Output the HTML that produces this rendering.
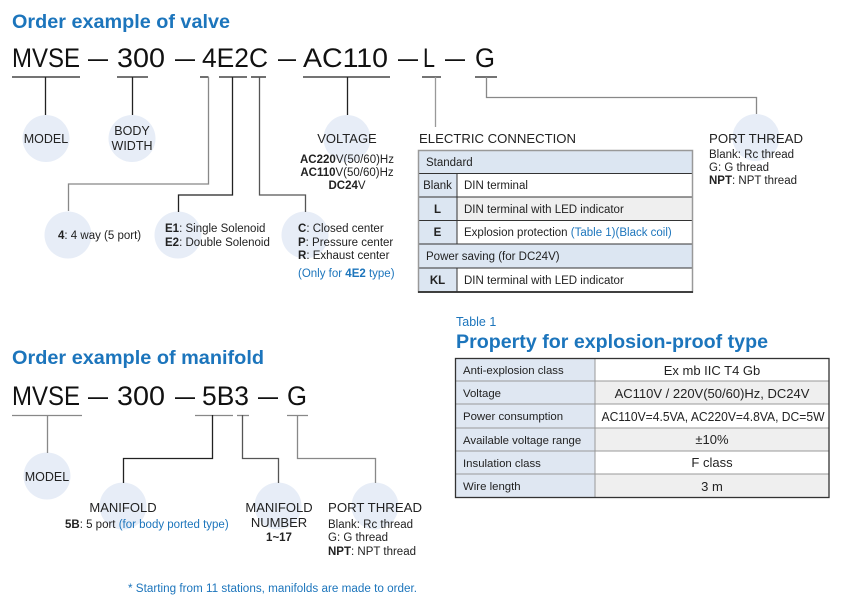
<!DOCTYPE html>
<html><head><meta charset="utf-8"><style>
html,body{margin:0;padding:0;background:#fff;}
svg{display:block;font-family:"Liberation Sans",Arial,sans-serif;}
</style></head><body>
<svg width="845" height="615" viewBox="0 0 845 615" xmlns="http://www.w3.org/2000/svg">
<!-- Titles -->
<text x="12" y="28" font-size="19.5" font-weight="bold" fill="#1c75bc" textLength="218" lengthAdjust="spacingAndGlyphs">Order example of valve</text>
<text x="12" y="364" font-size="19.5" font-weight="bold" fill="#1c75bc" textLength="252" lengthAdjust="spacingAndGlyphs">Order example of manifold</text>
<text x="456" y="326" font-size="12.5" fill="#1c75bc">Table 1</text>
<text x="456" y="348" font-size="19.5" font-weight="bold" fill="#1c75bc" textLength="312" lengthAdjust="spacingAndGlyphs">Property for explosion-proof type</text>

<!-- Valve code -->
<g font-size="27" fill="#111">
<text x="12" y="67" textLength="68" lengthAdjust="spacingAndGlyphs">MVSE</text>
<text x="88" y="67" textLength="20" lengthAdjust="spacingAndGlyphs">—</text>
<text x="117" y="67" textLength="48" lengthAdjust="spacingAndGlyphs">300</text>
<text x="175" y="67" textLength="20" lengthAdjust="spacingAndGlyphs">—</text>
<text x="202" y="67" textLength="66" lengthAdjust="spacingAndGlyphs">4E2C</text>
<text x="278" y="67" textLength="18" lengthAdjust="spacingAndGlyphs">—</text>
<text x="303" y="67" textLength="85" lengthAdjust="spacingAndGlyphs">AC110</text>
<text x="398" y="67" textLength="20" lengthAdjust="spacingAndGlyphs">—</text>
<text x="423" y="67" textLength="12" lengthAdjust="spacingAndGlyphs">L</text>
<text x="445" y="67" textLength="20" lengthAdjust="spacingAndGlyphs">—</text>
<text x="475" y="67" textLength="20" lengthAdjust="spacingAndGlyphs">G</text>
</g>
<!-- Valve underlines -->
<g stroke="#222" stroke-width="1.3">
<line x1="12" y1="77" x2="80" y2="77"/>
<line x1="117" y1="77" x2="148" y2="77"/>
<line x1="200" y1="77" x2="208.5" y2="77"/>
<line x1="219" y1="77" x2="247" y2="77"/>
<line x1="251" y1="77" x2="266" y2="77"/>
<line x1="303" y1="77" x2="390" y2="77"/>
<line x1="422" y1="77" x2="441" y2="77"/>
<line x1="475" y1="77" x2="497" y2="77"/>
</g>
<!-- Circles valve -->
<g fill="#e7edf7">
<circle cx="46" cy="138.5" r="23.5"/>
<circle cx="132" cy="138.5" r="23.5"/>
<circle cx="347" cy="138.5" r="23.5"/>
<circle cx="756" cy="137.5" r="23.5"/>
<circle cx="68" cy="235" r="23.5"/>
<circle cx="178" cy="235" r="23.5"/>
<circle cx="305" cy="235" r="23.5"/>
<!-- manifold -->
<circle cx="47" cy="476" r="23.5"/>
<circle cx="123" cy="506" r="23.5"/>
<circle cx="278" cy="506" r="23.5"/>
<circle cx="375" cy="506" r="23.5"/>
</g>
<!-- Valve connectors -->
<g fill="none" stroke-width="1.3">
<line x1="45.5" y1="77" x2="45.5" y2="115" stroke="#222"/>
<line x1="132.5" y1="77" x2="132.5" y2="115" stroke="#222"/>
<line x1="347.5" y1="77" x2="347.5" y2="115" stroke="#222"/>
<polyline points="208.5,77 208.5,184 68.5,184 68.5,211" stroke="#888"/>
<polyline points="232.5,77 232.5,195 178.5,195 178.5,212" stroke="#222"/>
<polyline points="259.5,77 259.5,195 305.5,195 305.5,212" stroke="#555"/>
<line x1="435.5" y1="77" x2="435.5" y2="127" stroke="#999"/>
<polyline points="486.5,77 486.5,97.5 756.5,97.5 756.5,114" stroke="#888"/>
</g>

<!-- Valve labels -->
<g font-size="12.5" fill="#222">
<text x="46" y="143" text-anchor="middle">MODEL</text>
<text x="132" y="135" text-anchor="middle">BODY</text>
<text x="132" y="150" text-anchor="middle">WIDTH</text>
<text x="347" y="143" text-anchor="middle" font-size="13">VOLTAGE</text>
<text x="419" y="143" font-size="13" textLength="157" lengthAdjust="spacingAndGlyphs">ELECTRIC CONNECTION</text>
<text x="709" y="143" font-size="13" textLength="94" lengthAdjust="spacingAndGlyphs">PORT THREAD</text>
</g>
<g font-size="11.5" fill="#222">
<text x="347" y="163" text-anchor="middle"><tspan font-weight="bold">AC220</tspan>V(50/60)Hz</text>
<text x="347" y="176" text-anchor="middle"><tspan font-weight="bold">AC110</tspan>V(50/60)Hz</text>
<text x="347" y="189" text-anchor="middle"><tspan font-weight="bold">DC24</tspan>V</text>
<text x="709" y="158">Blank: Rc thread</text>
<text x="709" y="171">G: G thread</text>
<text x="709" y="184"><tspan font-weight="bold">NPT</tspan>: NPT thread</text>
<text x="58" y="239"><tspan font-weight="bold">4</tspan>: 4 way (5 port)</text>
<text x="165" y="232"><tspan font-weight="bold">E1</tspan>: Single Solenoid</text>
<text x="165" y="246"><tspan font-weight="bold">E2</tspan>: Double Solenoid</text>
<text x="298" y="232"><tspan font-weight="bold">C</tspan>: Closed center</text>
<text x="298" y="246"><tspan font-weight="bold">P</tspan>: Pressure center</text>
<text x="298" y="259"><tspan font-weight="bold">R</tspan>: Exhaust center</text>
<text x="298" y="277" fill="#1c75bc">(Only for <tspan font-weight="bold">4E2</tspan> type)</text>
</g>

<!-- Electric connection table -->
<g>
<rect x="418" y="150" width="275" height="23.5" fill="#dce6f2"/>
<rect x="418" y="173.5" width="39" height="94.5" fill="#dce6f2"/>
<rect x="457" y="173.5" width="236" height="23.5" fill="#fff"/>
<rect x="457" y="197" width="236" height="23.5" fill="#efefef"/>
<rect x="457" y="220.5" width="236" height="23.5" fill="#fff"/>
<rect x="418" y="244" width="275" height="24" fill="#dce6f2"/>
<rect x="418" y="268" width="39" height="24" fill="#dce6f2"/>
<rect x="457" y="268" width="236" height="24" fill="#fff"/>
<g stroke="#333" stroke-width="1">
<line x1="418" y1="173.5" x2="693" y2="173.5"/>
<line x1="418" y1="197" x2="693" y2="197"/>
<line x1="418" y1="220.5" x2="693" y2="220.5"/>
<line x1="418" y1="244" x2="693" y2="244"/>
<line x1="418" y1="268" x2="693" y2="268"/>
<line x1="418" y1="292" x2="693" y2="292" stroke-width="1.5"/>
<line x1="457" y1="173.5" x2="457" y2="244"/>
<line x1="457" y1="268" x2="457" y2="292"/>
</g>
<rect x="418.5" y="150.5" width="274" height="141.5" fill="none" stroke="#999" stroke-width="1.5"/>
<line x1="418" y1="292" x2="693" y2="292" stroke="#222" stroke-width="1.5"/>
<g font-size="11.5" fill="#222">
<text x="426" y="166">Standard</text>
<text x="437.5" y="189" text-anchor="middle">Blank</text>
<text x="464" y="189">DIN terminal</text>
<text x="437.5" y="213" text-anchor="middle" font-weight="bold">L</text>
<text x="464" y="213">DIN terminal with LED indicator</text>
<text x="437.5" y="236" text-anchor="middle" font-weight="bold">E</text>
<text x="464" y="236">Explosion protection <tspan fill="#1c75bc">(Table 1)(Black coil)</tspan></text>
<text x="426" y="260">Power saving (for DC24V)</text>
<text x="437.5" y="284" text-anchor="middle" font-weight="bold">KL</text>
<text x="464" y="284">DIN terminal with LED indicator</text>
</g>
</g>

<!-- Table 1 -->
<g>
<rect x="455" y="358" width="140" height="140" fill="#dfe7f2"/>
<rect x="595" y="358" width="234" height="23" fill="#fff"/>
<rect x="595" y="381" width="234" height="23" fill="#efefef"/>
<rect x="595" y="404" width="234" height="24" fill="#fff"/>
<rect x="595" y="428" width="234" height="23" fill="#efefef"/>
<rect x="595" y="451" width="234" height="23" fill="#fff"/>
<rect x="595" y="474" width="234" height="24" fill="#efefef"/>
<g stroke="#999" stroke-width="1">
<line x1="455" y1="381" x2="829" y2="381"/>
<line x1="455" y1="404" x2="829" y2="404"/>
<line x1="455" y1="428" x2="829" y2="428"/>
<line x1="455" y1="451" x2="829" y2="451"/>
<line x1="455" y1="474" x2="829" y2="474"/>
<line x1="595" y1="358" x2="595" y2="498"/>
</g>
<rect x="455.5" y="358.5" width="373.5" height="139" fill="none" stroke="#333" stroke-width="1.3"/>
<g font-size="11.4" fill="#222">
<text x="463" y="374">Anti-explosion class</text>
<text x="463" y="397">Voltage</text>
<text x="463" y="420">Power consumption</text>
<text x="463" y="444">Available voltage range</text>
<text x="463" y="467">Insulation class</text>
<text x="463" y="490">Wire length</text>
</g>
<g font-size="13" fill="#222" text-anchor="middle">
<text x="712" y="375">Ex mb IIC T4 Gb</text>
<text x="712" y="398">AC110V / 220V(50/60)Hz, DC24V</text>
<text x="713" y="421" textLength="223" lengthAdjust="spacingAndGlyphs">AC110V=4.5VA, AC220V=4.8VA, DC=5W</text>
<text x="712" y="444">±10%</text>
<text x="712" y="467">F class</text>
<text x="712" y="491">3 m</text>
</g>
</g>

<!-- Manifold code -->
<g font-size="27" fill="#111">
<text x="12" y="405" textLength="68" lengthAdjust="spacingAndGlyphs">MVSE</text>
<text x="88" y="405" textLength="20" lengthAdjust="spacingAndGlyphs">—</text>
<text x="117" y="405" textLength="48" lengthAdjust="spacingAndGlyphs">300</text>
<text x="175" y="405" textLength="20" lengthAdjust="spacingAndGlyphs">—</text>
<text x="202" y="405" textLength="47" lengthAdjust="spacingAndGlyphs">5B3</text>
<text x="258" y="405" textLength="20" lengthAdjust="spacingAndGlyphs">—</text>
<text x="287" y="405" textLength="20" lengthAdjust="spacingAndGlyphs">G</text>
</g>
<g stroke="#888" stroke-width="1.3" fill="none">
<line x1="12" y1="415.5" x2="82" y2="415.5"/>
<line x1="195" y1="415.5" x2="233" y2="415.5"/>
<line x1="237" y1="415.5" x2="249" y2="415.5"/>
<line x1="287" y1="415.5" x2="308" y2="415.5"/>
<line x1="47.5" y1="415" x2="47.5" y2="453" stroke="#888"/>
<polyline points="212.5,415 212.5,458.5 123.5,458.5 123.5,483" stroke="#222"/>
<polyline points="242.5,415 242.5,458.5 278.5,458.5 278.5,483" stroke="#555"/>
<polyline points="297.5,415 297.5,458.5 375.5,458.5 375.5,483" stroke="#888"/>
</g>
<g font-size="12.5" fill="#222">
<text x="47" y="481" text-anchor="middle">MODEL</text>
<text x="123" y="512" text-anchor="middle" font-size="13">MANIFOLD</text>
<text x="279" y="512" text-anchor="middle" font-size="13">MANIFOLD</text>
<text x="279" y="527" text-anchor="middle" font-size="13">NUMBER</text>
<text x="328" y="512" font-size="13" textLength="94" lengthAdjust="spacingAndGlyphs">PORT THREAD</text>
</g>
<g font-size="11.5" fill="#222">
<text x="65" y="528"><tspan font-weight="bold">5B</tspan>: 5 port <tspan fill="#1c75bc">(for body ported type)</tspan></text>
<text x="279" y="541" text-anchor="middle" font-weight="bold">1~17</text>
<text x="328" y="528">Blank: Rc thread</text>
<text x="328" y="541">G: G thread</text>
<text x="328" y="555"><tspan font-weight="bold">NPT</tspan>: NPT thread</text>
<text x="128" y="592" fill="#1c75bc" textLength="289" lengthAdjust="spacingAndGlyphs">* Starting from 11 stations, manifolds are made to order.</text>
</g>
</svg>
</body></html>
